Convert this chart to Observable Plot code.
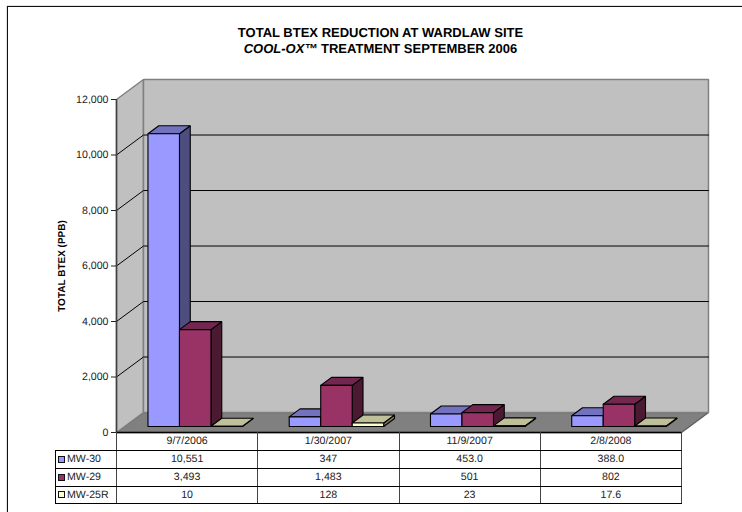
<!DOCTYPE html>
<html>
<head>
<meta charset="utf-8">
<script src="https://cdn.jsdelivr.net/npm/d3@7"></script>
<script src="https://cdn.jsdelivr.net/npm/@observablehq/plot@0.6"></script>
<style>
  html, body { margin: 0; padding: 0; background: #fff; }
  #page { position: relative; width: 742px; height: 512px; overflow: hidden; font-family: "Liberation Sans", Arial, sans-serif; color: #111; text-rendering: geometricPrecision; }
  #frame { position: absolute; left: 7px; top: 6px; width: 800px; height: 600px; border: 1px solid #111; box-shadow: 0 0 1px #555; }
  #title { position: absolute; left: 0; width: 761px; top: 24.5px; text-align: center; font-weight: bold; font-size: 13px; line-height: 16.5px; color: #000; }
  #chart { position: absolute; left: 0; top: 60px; }
  #chart svg { display: block; }
  #table { position: absolute; left: 55px; top: 432px; width: 626px; border-collapse: collapse; table-layout: fixed; font-size: 10.6px; color: #222; }
  #table td { padding: 0; text-align: center; border-top: 1px solid #000; border-bottom: 1px solid #000; border-left: 1px solid #444; border-right: 1px solid #444; line-height: 15px; overflow: hidden; white-space: nowrap; }
  #table tr:nth-child(2) td { height: 17px; }
  #table tr:nth-child(3) td { height: 17px; }
  #table tr:nth-child(4) td { height: 17px; }
  #table tr:nth-child(5) td { height: 16px; }
  #table td.blank { border: none; border-bottom: 1px solid #000; border-right: 1px solid #444; }
  #table td.series { text-align: left; padding-left: 2px; border-left: 1px solid #000; }
  #table .key { display: inline-block; width: 5px; height: 5px; border: 1px solid #111; margin-right: 2px; vertical-align: -0.5px; }
</style>
</head>
<body>
<div id="page">
  <div id="frame"></div>
  <div id="title">TOTAL BTEX REDUCTION AT WARDLAW SITE<br><i>COOL-OX™</i> TREATMENT SEPTEMBER 2006</div>
  <div id="chart"></div>
  <table id="table"></table>
</div>
<script>
const categories = ["9/7/2006", "1/30/2007", "11/9/2007", "2/8/2008"];
const seriesNames = ["MW-30", "MW-29", "MW-25R"];
const mw30 = [10551, 347, 453, 388];
const mw29 = [3493, 1483, 501, 802];
const mw25r = [10, 128, 23, 17.6];
const mw30Labels = ["10,551", "347", "453.0", "388.0"];
const mw29Labels = ["3,493", "1,483", "501", "802"];
const mw25rLabels = ["10", "128", "23", "17.6"];
const yTicks = [0, 2000, 4000, 6000, 8000, 10000, 12000];
const fronts = ["#9999ff", "#993366", "#ffffcc"];
const tops = ["#7272bf", "#732650", "#bfbf99"];
const sides = ["#4d4d80", "#4c1933", "#808066"];

// Oblique depth: one full unit of depth, expressed in scale units.
const depthX = 0.191, depthY = 720;
const pt = (c, v, z) => ({x: c + z * depthX, y: v + z * depthY});
const nCat = categories.length, yMax = 12000;

function poly(rows, id, fill, stroke, pts) {
  [...pts, pts[0]].forEach(p => rows.push({id, fill, stroke, ...p}));
}

const walls = [];
poly(walls, "floor", "#808080", "#606060", [pt(0,0,0), pt(nCat,0,0), pt(nCat,0,1), pt(0,0,1)]);
poly(walls, "left", "#c0c0c0", "#808080", [pt(0,0,0), pt(0,yMax,0), pt(0,yMax,1), pt(0,0,1)]);
poly(walls, "back", "#c0c0c0", "#808080", [pt(0,0,1), pt(0,yMax,1), pt(nCat,yMax,1), pt(nCat,0,1)]);

const grid = [];
yTicks.filter(v => v > 0 && v < yMax).forEach(v => {
  [pt(0,v,0), pt(0,v,1), pt(nCat,v,1)].forEach(p => grid.push({id: v, ...p}));
});

const barW = 0.223, gap = 0.1655, z0 = 0.3, z1 = 0.7;
const bars = [];
[mw30, mw29, mw25r].forEach((vals, s) => {
  vals.forEach((v, g) => {
    const a = g + gap + s * barW, b = a + barW, k = `${g}-${s}`;
    poly(bars, k + "side", sides[s], "#000", [pt(b,0,z0), pt(b,v,z0), pt(b,v,z1), pt(b,0,z1)]);
    poly(bars, k + "top", tops[s], "#000", [pt(a,v,z0), pt(b,v,z0), pt(b,v,z1), pt(a,v,z1)]);
    poly(bars, k + "front", fronts[s], "#000", [pt(a,0,z0), pt(b,0,z0), pt(b,v,z0), pt(a,v,z0)]);
  });
});

const chart = Plot.plot({
  width: 742,
  height: 385,
  marginLeft: 116,
  marginRight: 61,
  marginTop: 39,
  marginBottom: 13,
  style: {background: "transparent", fontFamily: "'Liberation Sans', Arial, sans-serif", fontSize: "10.6px", color: "#222"},
  x: {domain: [0, nCat], axis: null},
  y: {domain: [0, yMax], axis: null},
  color: {type: "identity"},
  marks: [
    Plot.line(walls, {x: "x", y: "y", z: "id", fill: "fill", stroke: "stroke", strokeWidth: 1.5, strokeLinejoin: "miter"}),
    Plot.line(grid, {x: "x", y: "y", z: "id", stroke: "#000", strokeWidth: 1}),
    Plot.ruleX([0], {y1: 0, y2: yMax, stroke: "#404040", strokeWidth: 1.5}),
    Plot.ruleY([0], {x1: 0, x2: nCat, stroke: "#000", strokeWidth: 1.5}),
    Plot.axisY(yTicks, {anchor: "left", tickFormat: d3.format(","), tickSize: 5, tickPadding: 3, label: null, stroke: "#222"}),
    Plot.text(["TOTAL BTEX (PPB)"], {frameAnchor: "left", textAnchor: "middle", rotate: -90, dx: -54.5, fontWeight: "bold", fontSize: 10, fill: "#000"}),
    Plot.line(bars, {x: "x", y: "y", z: "id", fill: "fill", stroke: "stroke", strokeWidth: 1.1, strokeLinejoin: "miter"})
  ]
});
document.getElementById("chart").appendChild(chart);

// Data table under the plot, with legend keys.
const table = d3.select("#table");
const cg = table.append("colgroup");
cg.append("col").style("width", "61px");
categories.forEach(() => cg.append("col").style("width", "141.25px"));
const head = table.append("tr");
head.append("td").attr("class", "blank");
categories.forEach(c => head.append("td").text(c));
[mw30Labels, mw29Labels, mw25rLabels].forEach((labels, s) => {
  const tr = table.append("tr");
  const first = tr.append("td").attr("class", "series");
  first.append("span").attr("class", "key").style("background", fronts[s]);
  first.append("span").text(seriesNames[s]);
  labels.forEach(l => tr.append("td").text(l));
});
</script>
</body>
</html>
